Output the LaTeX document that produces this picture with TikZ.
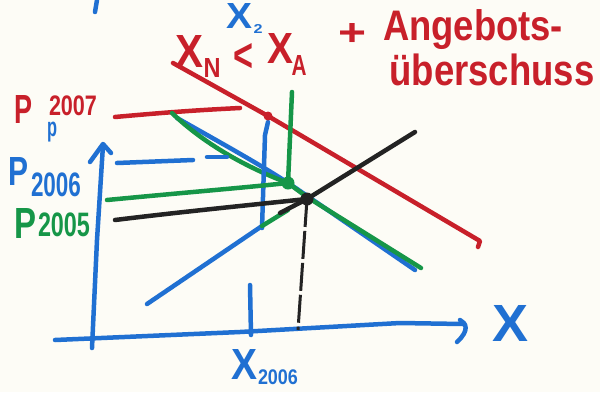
\documentclass[tikz,border=0pt]{standalone}
\usepackage{fontspec}
\setmainfont{Liberation Sans}
\definecolor{mred}{RGB}{200,32,42}
\definecolor{mblue}{RGB}{32,112,210}
\definecolor{mgreen}{RGB}{22,150,72}
\definecolor{mblack}{RGB}{35,35,35}
\definecolor{paper}{RGB}{253,252,246}
\newcommand\fitwh[3]{\resizebox*{#1}{#2}{\bfseries #3}}
\begin{document}
\begin{tikzpicture}[x=1pt,y=-1pt,
  pen/.style={line width=4.5pt,line cap=round,line join=round},
  lbl/.style={inner sep=0pt,anchor=center}]
\fill[paper] (0,0) rectangle (600,392);
\useasboundingbox (0,0) rectangle (600,392);
% key points
\coordinate (R) at (268,116);
\coordinate (E5) at (288,183);
\coordinate (E) at (307,199);
% stray stroke at top
\draw[pen,mblue] (97,0) -- (95,12);
% axes
\draw[pen,mblue] (92,348) -- (97,240) -- (103,145);
\draw[pen,mblue] (90,162) -- (103,144) -- (111,153);
\draw[pen,mblue] (55,340) -- (240,332) -- (400,323) -- (463,324);
\draw[pen,mblue] (460,320) .. controls (466,323) and (470,330) .. (457,342);
\draw[pen,mblue] (250,285) -- (251,335);
% dashed black drop
\draw[mblack,line width=3pt,dash pattern=on 28pt off 4pt] (E) -- (298,330);
% red demand and price
\draw[pen,mred] (115,117) .. controls (170,112) and (200,110) .. (240,108);
\draw[pen,mred] (173,63) -- (R) -- (480,241) -- (478,247);
% descending blue / green
\draw[pen,mblue] (177,118) .. controls (230,148) and (270,170) .. (300,191) -- (415,270);
\draw[pen,mgreen] (172,113) .. controls (200,140) and (240,165) .. (E5) -- (307,197) -- (421,268);
% verticals
\draw[pen,mgreen] (292,92) -- (E5);
\draw[pen,mblue] (262,228) -- (265,135) -- (268,122);
% horizontals
\draw[pen,mblue] (117,163) -- (193,160);
\draw[pen,mblue] (207,157) -- (227,157);
\draw[pen,mgreen] (107,200) .. controls (180,193) and (240,188) .. (E5);
% ascending supply
\draw[pen,mblue] (147,304) -- (262,226);
\draw[pen,mgreen] (262,226) -- (288,210);
\draw[pen,mblack] (280,213) -- (E) -- (415,132);
\draw[pen,mblack] (115,220) .. controls (180,212) and (250,205) .. (E);
% dots
\fill[mred] (R) circle (4.5);
\fill[mgreen] (E5) circle (6.5);
\fill[mblack] (E) circle (6.5);
% labels left
\node[lbl,mred] (p7) at (24,109) {\fitwh{18pt}{28pt}{P}};
\node[lbl,mred] (p7y) at (73,106) {\fitwh{48pt}{20pt}{2007}};
\node[lbl,mblue] (pb) at (52,132) {\fitwh{10pt}{20pt}{p}};
\node[lbl,mblue] (p6) at (19,171) {\fitwh{20pt}{28pt}{P}};
\node[lbl,mblue] (p6y) at (56,185) {\fitwh{50pt}{24pt}{2006}};
\node[lbl,mgreen] (p5) at (25,223) {\fitwh{22pt}{30pt}{P}};
\node[lbl,mgreen] (p5y) at (64,225) {\fitwh{52pt}{24pt}{2005}};
% top labels
\node[lbl,mblue] (x2) at (239,16) {\fitwh{26pt}{25pt}{X}};
\node[lbl,mblue] (x2s) at (258,29) {\fitwh{9pt}{9pt}{2}};
\node[lbl,mred] (xn) at (189,51) {\fitwh{28pt}{32pt}{X}};
\node[lbl,mred] (xns) at (212,68) {\fitwh{17pt}{19pt}{N}};
\node[lbl,mred] (lt) at (243,57) {\fitwh{20pt}{28pt}{<}};
\node[lbl,mred] (xa) at (280,48) {\fitwh{26pt}{30pt}{X}};
\node[lbl,mred] (xas) at (299,65) {\fitwh{15pt}{20pt}{A}};
\node[lbl,mred] (plus) at (352,34) {\fitwh{28pt}{22pt}{+}};
\node[lbl,mred] (ang) at (473,30) {\fitwh{180pt}{40pt}{Angebots-}};
\node[lbl,mred] (ueb) at (492,70) {\fitwh{205pt}{32pt}{überschuss}};
% axis labels
\node[lbl,mblue] (xl) at (510,323) {\fitwh{36pt}{36pt}{X}};
\node[lbl,mblue] (xw) at (244,364) {\fitwh{26pt}{30pt}{X}};
\node[lbl,mblue] (xws) at (278,377) {\fitwh{40pt}{15pt}{2006}};
\end{tikzpicture}
\end{document}
